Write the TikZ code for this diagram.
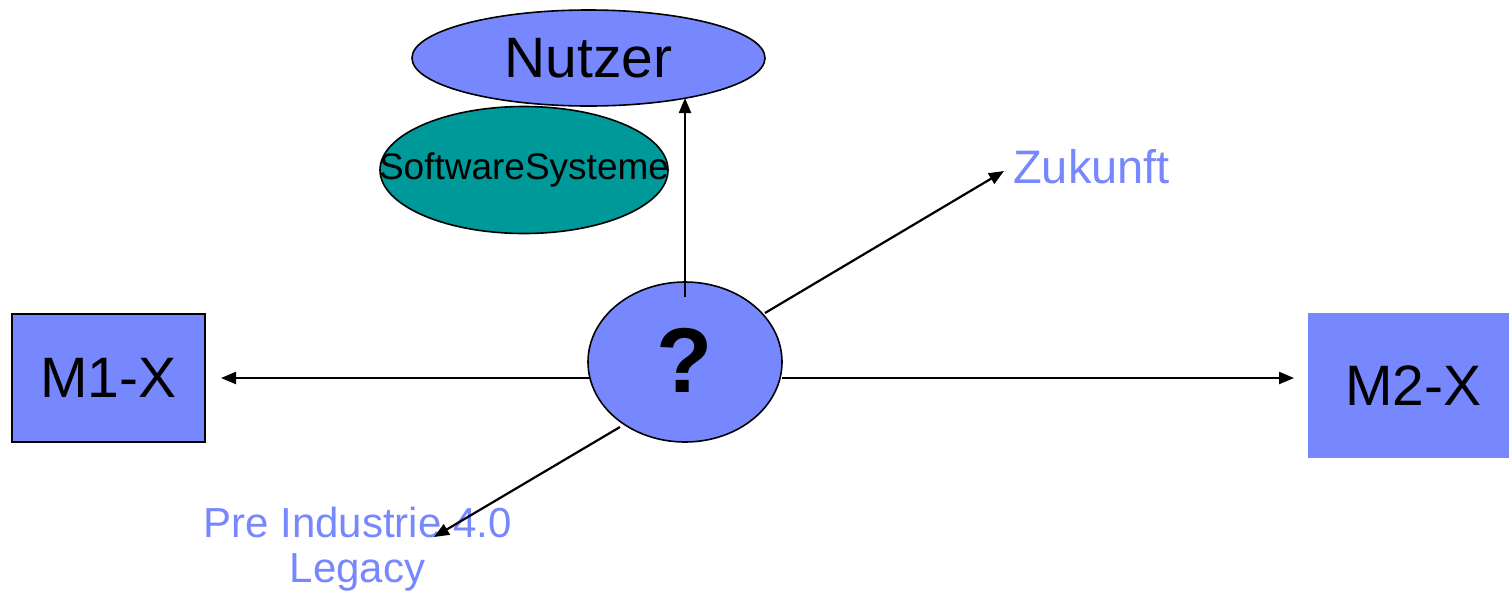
\documentclass[tikz,border=0pt]{standalone}
\usepackage{fontspec}
\setmainfont{Liberation Sans}
\usetikzlibrary{shapes.geometric,arrows.meta}
\definecolor{lightblue}{RGB}{119,136,255}
\definecolor{teal}{RGB}{0,153,153}
\tikzset{
  conn/.style={line width=2.2pt,-{Triangle[length=15pt,width=12pt]}},
  oval/.style={ellipse,draw=black,line width=1.6pt,inner sep=0pt},
  box/.style={rectangle,fill=lightblue,inner sep=0pt},
  bluetext/.style={text=lightblue,inner sep=0pt}
}
\begin{document}
\begin{tikzpicture}[x=1pt,y=-1pt]
  \useasboundingbox (0,0) rectangle (1509,590);
  % machines
  \node[box,draw=black,line width=2pt,minimum width=193pt,minimum height=128pt,
        font=\fontsize{57}{60}\selectfont] (m1) at (108.5,378) {M1-X};
  \node[box,minimum width=211pt,minimum height=145pt,
        font=\fontsize{57}{60}\selectfont] (m2) at (1413.5,385.5) {M2-X};
  % users and software systems
  \node[oval,fill=lightblue,minimum width=353pt,minimum height=96pt,
        font=\fontsize{57}{60}\selectfont] (nutzer) at (588.5,58) {\makebox[0pt]{Nutzer}};
  \node[oval,fill=teal,minimum width=288pt,minimum height=127pt,
        font=\fontsize{37}{40}\selectfont] (sw) at (524,170) {\makebox[0pt]{SoftwareSysteme}};
  % central unknown
  \node[oval,fill=lightblue,minimum width=194pt,minimum height=160pt,
        font=\fontsize{92}{96}\selectfont\bfseries] (q) at (685,362) {\makebox[0pt]{\raisebox{4pt}{?}}};
  % target labels
  \node[bluetext,anchor=base west,font=\fontsize{47}{50}\selectfont] (zukunft) at (1013,183) {Zukunft};
  \node[bluetext,anchor=base,align=center,font=\fontsize{42}{45}\selectfont] (legacy) at (357.5,582)
        {Pre Industrie 4.0\\Legacy};
  % connector end points
  \coordinate (qtop) at (685,297);
  \coordinate (nutzertip) at (685,98);
  \coordinate (qleft) at (590,378);
  \coordinate (m1tip) at (221,378);
  \coordinate (qright) at (782,378);
  \coordinate (m2tip) at (1294,378);
  \coordinate (qne) at (765,313);
  \coordinate (zukunfttip) at (1004,171);
  \coordinate (qsw) at (620,427);
  \coordinate (legacytip) at (434,537);
  % connectors
  \draw[conn] (qtop) -- (nutzertip);
  \draw[conn] (qleft) -- (m1tip);
  \draw[conn] (qright) -- (m2tip);
  \draw[conn] (qne) -- (zukunfttip);
  \draw[conn] (qsw) -- (legacytip);
\end{tikzpicture}
\end{document}
